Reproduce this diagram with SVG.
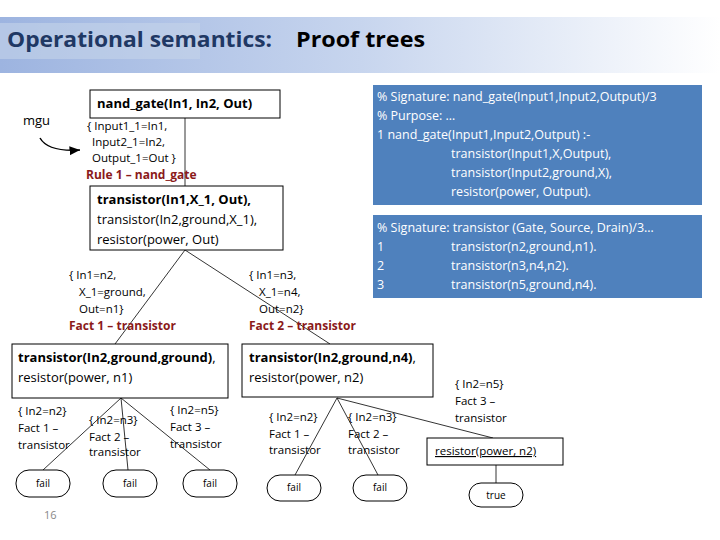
<svg xmlns="http://www.w3.org/2000/svg" width="720" height="540" viewBox="0 0 720 540">
<defs>
<linearGradient id="tg" x1="0" x2="1" y1="0" y2="0"><stop offset="0" stop-color="#9db4e0"/><stop offset="0.5" stop-color="#c7d5ee"/><stop offset="1" stop-color="#ffffff"/></linearGradient>
<marker id="ah" markerWidth="8" markerHeight="8" refX="7" refY="4" orient="auto"><path d="M0,1 L7,4 L0,7 Z" fill="#000"/></marker>
</defs>
<style>
text{font-family:"Liberation Sans Narrow","Open Sans",sans-serif;}
.b{fill:#fff;stroke:#000;stroke-width:1}
.t{font-size:13px;fill:#000}
.tb{font-size:13px;font-weight:bold;fill:#000}
.s{font-size:11.5px;fill:#000}
.r{font-size:12px;font-weight:bold;fill:#8b1a1a}
.w{font-size:12.5px;fill:#fff}
.f{font-size:10px;fill:#000;text-anchor:middle}
.c{stroke:#000;stroke-width:0.8;fill:none}
</style>
<rect x="0" y="17" width="720" height="56" fill="url(#tg)"/>
<rect x="0" y="23" width="200" height="36" fill="#c5d4ea" opacity="0.6"/>
<text x="7" y="47" font-size="22" font-weight="bold" fill="#1f3864" textLength="265" lengthAdjust="spacingAndGlyphs">Operational semantics:</text>
<text x="296" y="47" font-size="22" font-weight="bold" fill="#000" textLength="129" lengthAdjust="spacingAndGlyphs">Proof trees</text>
<g id="connectors">
<line class="c" x1="185" y1="118" x2="185" y2="186"/>
<line class="c" x1="185" y1="250" x2="115" y2="344"/>
<line class="c" x1="185" y1="250" x2="330" y2="344"/>
<line class="c" x1="121" y1="398" x2="43" y2="470"/>
<line class="c" x1="121" y1="398" x2="128" y2="470"/>
<line class="c" x1="121" y1="398" x2="210" y2="470"/>
<line class="c" x1="337" y1="398" x2="295" y2="475"/>
<line class="c" x1="337" y1="398" x2="378" y2="475"/>
<line class="c" x1="337" y1="398" x2="493" y2="438"/>
<line class="c" x1="496" y1="465" x2="496" y2="483"/>
<path d="M40,138 Q48,152 80,150" stroke="#000" stroke-width="1.5" fill="none" marker-end="url(#ah)"/>
</g>
<text x="23" y="125" font-size="13" fill="#000">mgu</text>
<g id="n1"><rect class="b" x="90" y="90" width="190" height="28"/><text x="97" y="108" class="tb">nand_gate(In1, In2, Out)</text></g>
<g id="sub1"><text x="87" y="130" class="s">{ Input1_1=In1,</text><text x="92" y="146" class="s">Input2_1=In2,</text><text x="92" y="162" class="s">Output_1=Out }</text><text x="86" y="179" class="r">Rule 1 – nand_gate</text></g>
<g id="n2"><rect class="b" x="90" y="186" width="193" height="64"/><text x="97" y="204" class="tb">transistor(In1,X_1, Out),</text><text x="97" y="224" class="t">transistor(In2,ground,X_1),</text><text x="97" y="244" class="t">resistor(power, Out)</text></g>
<g id="sub2"><text x="69" y="279" class="s">{ In1=n2,</text><text x="79" y="296" class="s">X_1=ground,</text><text x="79" y="313" class="s">Out=n1}</text><text x="69" y="330" class="r">Fact 1 – transistor</text>
<text x="249" y="279" class="s">{  In1=n3,</text><text x="259" y="296" class="s">X_1=n4,</text><text x="259" y="313" class="s">Out=n2}</text><text x="249" y="330" class="r">Fact 2 – transistor</text></g>
<g id="n3"><rect class="b" x="12" y="344" width="216" height="54"/><text x="18" y="362" class="tb">transistor(In2,ground,ground)<tspan style="font-weight:normal">,</tspan></text><text x="18" y="382" class="t">resistor(power, n1)</text></g>
<g id="n4"><rect class="b" x="242" y="344" width="191" height="53"/><text x="249" y="362" class="tb">transistor(In2,ground,n4)<tspan style="font-weight:normal">,</tspan></text><text x="249" y="382" class="t">resistor(power, n2)</text></g>
<g id="sub3">
<text x="18" y="415" class="s">{ In2=n2}</text><text x="18" y="432" class="s">Fact 1 –</text><text x="18" y="449" class="s">transistor</text>
<text x="89" y="424" class="s">{ In2=n3}</text><text x="89" y="441" class="s">Fact 2 –</text><text x="89" y="456" class="s">transistor</text>
<text x="170" y="414" class="s">{ In2=n5}</text><text x="170" y="431" class="s">Fact 3 –</text><text x="170" y="448" class="s">transistor</text>
<text x="269" y="421" class="s">{ In2=n2}</text><text x="269" y="438" class="s">Fact 1 –</text><text x="269" y="454" class="s">transistor</text>
<text x="348" y="421" class="s">{ In2=n3}</text><text x="348" y="438" class="s">Fact 2 –</text><text x="348" y="454" class="s">transistor</text>
<text x="455" y="388" class="s">{ In2=n5}</text><text x="455" y="405" class="s">Fact 3 –</text><text x="455" y="422" class="s">transistor</text>
</g>
<g id="fail1"><rect class="b" x="16" y="470" width="54" height="27" rx="13"/><text x="43" y="487" class="f">fail</text></g>
<g id="fail2"><rect class="b" x="103" y="470" width="54" height="27" rx="13"/><text x="130" y="487" class="f">fail</text></g>
<g id="fail3"><rect class="b" x="183" y="470" width="54" height="27" rx="13"/><text x="210" y="487" class="f">fail</text></g>
<g id="fail4"><rect class="b" x="267" y="475" width="54" height="26" rx="13"/><text x="294" y="491" class="f">fail</text></g>
<g id="fail5"><rect class="b" x="353" y="475" width="54" height="26" rx="13"/><text x="380" y="491" class="f">fail</text></g>
<g id="n5"><rect class="b" x="427" y="438" width="136" height="27"/><text x="435" y="455" class="s" text-decoration="underline">resistor(power, n2)</text></g>
<g id="true"><rect class="b" x="469" y="483" width="54" height="24" rx="12"/><text x="496" y="499" class="f">true</text></g>
<g id="codeA"><rect x="373" y="85" width="329" height="120" fill="#4f81bd"/>
<text x="377" y="101" class="w">% Signature: nand_gate(Input1,Input2,Output)/3</text>
<text x="377" y="120" class="w">% Purpose: …</text>
<text x="377" y="139" class="w">1 nand_gate(Input1,Input2,Output) :-</text>
<text x="451" y="158" class="w">transistor(Input1,X,Output),</text>
<text x="451" y="177" class="w">transistor(Input2,ground,X),</text>
<text x="451" y="196" class="w">resistor(power, Output).</text></g>
<g id="codeB"><rect x="373" y="215" width="329" height="83" fill="#4f81bd"/>
<text x="377" y="232" class="w">% Signature: transistor (Gate, Source, Drain)/3…</text>
<text x="377" y="251" class="w">1</text><text x="451" y="251" class="w">transistor(n2,ground,n1).</text>
<text x="377" y="270" class="w">2</text><text x="451" y="270" class="w">transistor(n3,n4,n2).</text>
<text x="377" y="289" class="w">3</text><text x="451" y="289" class="w">transistor(n5,ground,n4).</text></g>
<text x="44" y="519" font-size="11" fill="#888">16</text>
</svg>
